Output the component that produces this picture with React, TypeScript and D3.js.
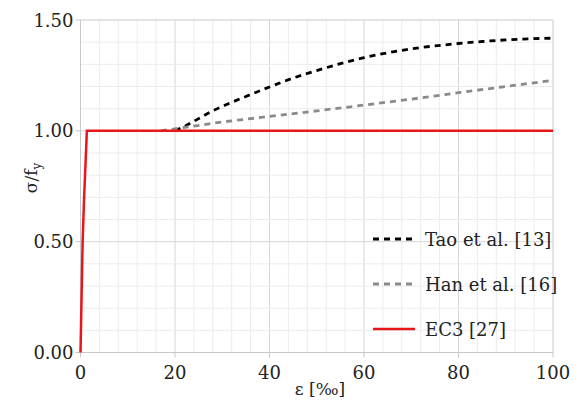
import React from "react";
import * as d3 from "d3";

const ec3X = [0, 0.45, 0.75, 1.35, 100];
const ec3Y = [0, 0.5, 0.69, 1.0, 1.0];
const taoX = [20, 22, 25, 28, 30, 35, 40, 45, 50, 55, 60, 65, 70, 75, 80, 85, 90, 95, 100];
const taoY = [1.0, 1.02, 1.055, 1.09, 1.11, 1.155, 1.198, 1.238, 1.272, 1.303, 1.33, 1.352, 1.37, 1.383, 1.394, 1.403, 1.41, 1.415, 1.418];
const hanX = [17, 30, 40, 50, 60, 70, 80, 90, 100];
const hanY = [1.0, 1.04, 1.065, 1.09, 1.116, 1.143, 1.172, 1.2, 1.228];
const xTicks = [0, 20, 40, 60, 80, 100];
const yTicks = [0, 0.5, 1.0, 1.5];
const legendLabels = ["Tao et al. [13]", "Han et al. [16]", "EC3 [27]"];

const ts = { fontFamily: "'DejaVu Serif'" };

export default function App() {
  const W = 587, H = 401;
  const x = d3.scaleLinear().domain([0, 100]).range([80.5, 553]);
  const y = d3.scaleLinear().domain([0, 1.5]).range([352.5, 20]);
  const line = d3.line<[number, number]>().x(d => x(d[0])).y(d => y(d[1]));
  const smooth = d3.line<[number, number]>().x(d => x(d[0])).y(d => y(d[1])).curve(d3.curveMonotoneX);
  const minorX = d3.range(0, 100.01, 4);
  const minorY = d3.range(0, 1.501, 0.1);
  const series = [
    { d: smooth(taoX.map((v, i) => [v, taoY[i]] as [number, number])), color: "#000", dash: "6,5" },
    { d: line(hanX.map((v, i) => [v, hanY[i]] as [number, number])), color: "#8a8a8a", dash: "6,5" },
    { d: line(ec3X.map((v, i) => [v, ec3Y[i]] as [number, number])), color: "#e8161b", dash: null },
  ];
  const legY = [239, 284, 329];
  return (
    <svg width={W} height={H} style={{ position: "absolute", left: 0, top: 0 }}>
      <rect width={W} height={H} fill="#fff" />
      {minorX.map((v, i) => (
        <line key={"mx" + i} x1={x(v)} x2={x(v)} y1={y(0)} y2={y(1.5)} stroke={v % 20 === 0 ? "#d6d6d6" : "#ececec"} strokeWidth={1} />
      ))}
      {minorY.map((v, i) => (
        <line key={"my" + i} x1={x(0)} x2={x(100)} y1={y(v)} y2={y(v)} stroke={i % 5 === 0 ? "#d6d6d6" : "#ececec"} strokeWidth={1} />
      ))}
      <line x1={x(0)} x2={x(100)} y1={y(1.5)} y2={y(1.5)} stroke="#dcdcdc" />
      <line x1={x(100)} x2={x(100)} y1={y(0)} y2={y(1.5)} stroke="#dcdcdc" />
      <line x1={x(0)} x2={x(0)} y1={y(0)} y2={y(1.5)} stroke="#c8c8c8" />
      <line x1={x(0)} x2={x(100)} y1={y(0)} y2={y(0)} stroke="#c8c8c8" />
      {yTicks.map(v => (
        <g key={"yt" + v}>
          <line x1={x(0) - 5} x2={x(0)} y1={y(v)} y2={y(v)} stroke="#c8c8c8" />
          <text x={x(0) - 7} y={y(v) + 6.5} textAnchor="end" fontSize={18} fill="#222" style={ts}>{v.toFixed(2)}</text>
        </g>
      ))}
      {xTicks.map(v => (
        <g key={"xt" + v}>
          <line x1={x(v)} x2={x(v)} y1={y(0)} y2={y(0) + 5} stroke="#c8c8c8" />
          <text x={x(v)} y={y(0) + 26} textAnchor="middle" fontSize={18} fill="#222" style={ts}>{v}</text>
        </g>
      ))}
      {series.map((s, i) => (
        <path key={"s" + i} d={s.d || ""} fill="none" stroke={s.color} strokeWidth={i === 2 ? 2.5 : 2.8} strokeDasharray={s.dash || undefined} />
      ))}
      {legendLabels.map((l, i) => (
        <g key={"lg" + i}>
          <line x1={373} x2={415} y1={legY[i]} y2={legY[i]} stroke={series[i].color} strokeWidth={i === 2 ? 2.5 : 2.8} strokeDasharray={series[i].dash || undefined} />
          <text x={425} y={legY[i] + 7} fontSize={18} fill="#222" style={ts}>{l}</text>
        </g>
      ))}
      <text x={320} y={395} textAnchor="middle" fontSize={17} fill="#222" style={ts}>ε [‰]</text>
      <text transform="translate(37,178) rotate(-90)" textAnchor="middle" fontSize={17} fill="#222" style={ts}>
        σ/f<tspan fontSize={12} dy={4}>y</tspan>
      </text>
    </svg>
  );
}
